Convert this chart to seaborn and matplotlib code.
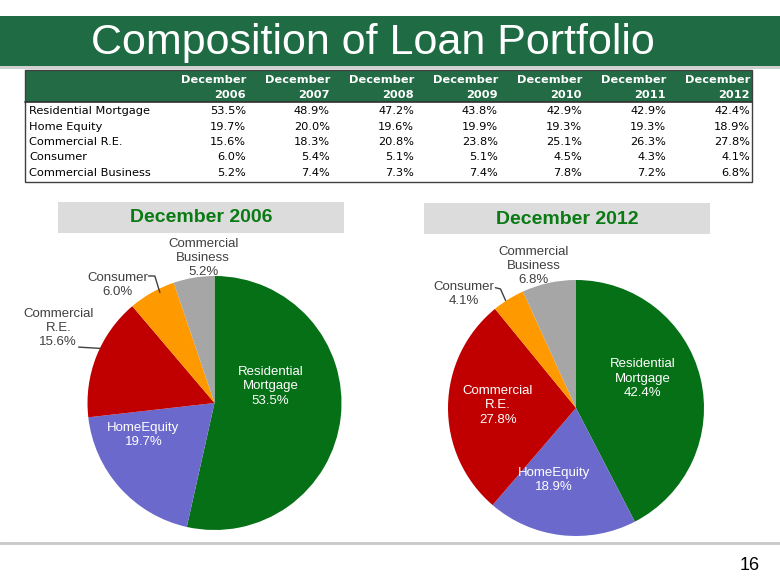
import matplotlib
matplotlib.use("Agg")
import matplotlib.pyplot as plt
from matplotlib.patches import Rectangle
import seaborn as sns
import pandas as pd

# table values (share of loan portfolio, %)
years = ['2006', '2007', '2008', '2009', '2010', '2011', '2012']
categories = ['Residential Mortgage', 'Home Equity', 'Commercial R.E.',
              'Consumer', 'Commercial Business']
residential = [53.5, 48.9, 47.2, 43.8, 42.9, 42.9, 42.4]
home_equity = [19.7, 20.0, 19.6, 19.9, 19.3, 19.3, 18.9]
commercial_re = [15.6, 18.3, 20.8, 23.8, 25.1, 26.3, 27.8]
consumer = [6.0, 5.4, 5.1, 5.1, 4.5, 4.3, 4.1]
commercial_business = [5.2, 7.4, 7.3, 7.4, 7.8, 7.2, 6.8]

pie_names = ['Residential\nMortgage', 'HomeEquity', 'Commercial\nR.E.',
             'Consumer', 'Commercial\nBusiness']
pie_colors = ['#067016', '#6b69cc', '#c00000', '#ff9900', '#a6a6a6']

df = pd.DataFrame([residential, home_equity, commercial_re, consumer,
                   commercial_business], index=categories, columns=years)

sns.set_theme(style='white')
plt.rcParams['font.family'] = ['Liberation Sans', 'DejaVu Sans']

W, H = 780, 585
fig = plt.figure(figsize=(W / 100, H / 100), dpi=100)
bg = fig.add_axes([0, 0, 1, 1])
bg.set_xlim(0, W)
bg.set_ylim(H, 0)
bg.axis('off')

# banner
green = '#1f6c44'
bg.add_patch(Rectangle((0, 66), W, 3, color='#d0d0d0', lw=0))
bg.add_patch(Rectangle((0, 16), W, 50, color=green, lw=0))
bg.text(373, 43, 'Composition of Loan Portfolio', color='white', fontsize=31,
        ha='center', va='center')

# table
tl, tr, tt, hb, tb = 25, 752, 70, 102, 182
bg.add_patch(Rectangle((tl, tt), tr - tl, hb - tt, color='#236b45', lw=0))
bg.add_patch(Rectangle((tl, tt), tr - tl, tb - tt, fill=False,
                       ec='#404040', lw=1))
bg.plot([tl, tr], [hb, hb], color='#303030', lw=1.2)
tfont = dict(family='DejaVu Sans', fontsize=8.2)
col_right = [246 + i * 84 for i in range(len(years))]
for x, yr in zip(col_right, years):
    bg.text(x, 80, 'December', ha='right', va='center', color='white',
            weight='bold', **tfont)
    bg.text(x, 95, yr, ha='right', va='center', color='white',
            weight='bold', **tfont)
for i, cat in enumerate(df.index):
    y = 111 + i * 15.5
    bg.text(29, y, cat, ha='left', va='center', color='black', **tfont)
    for x, yr in zip(col_right, years):
        bg.text(x, y, f'{df.loc[cat, yr]:.1f}%', ha='right', va='center',
                color='black', **tfont)

# pie title boxes
for x0, cx, yy, yr in [(58, 201, 202, 'December 2006'),
                       (424, 567, 203, 'December 2012')]:
    bg.add_patch(Rectangle((x0, yy), 286, 31, color='#dcdcdc', lw=0))
    bg.text(cx, yy + 16, yr, ha='center', va='center', color='#0a7a14',
            fontsize=14, weight='bold')

# footer
bg.plot([0, W], [543, 543], color='#c8c8c8', lw=2)
bg.text(760, 565, '16', ha='right', va='center', fontsize=13, color='black')

# pies
pies = [
    dict(year='2006', cx=214.5, cy=403, r=127,
         pos=[(0.44, 0.13), (-0.56, -0.25), (-1.23, 0.59), (-0.76, 0.93),
              (-0.09, 1.14)],
         inside=[True, True, False, False, False],
         leaders=[[(-1.07, 0.44), (-0.90, 0.43)],
                  [(-0.52, 1.0), (-0.47, 1.0), (-0.43, 0.87)]]),
    dict(year='2012', cx=576, cy=408, r=128,
         pos=[(0.52, 0.23), (-0.17, -0.56), (-0.61, 0.02), (-0.875, 0.89),
              (-0.33, 1.11)],
         inside=[True, True, True, False, False],
         leaders=[[(-0.63, 0.94), (-0.59, 0.93), (-0.55, 0.84)]]),
]
for p in pies:
    ax = fig.add_axes([(p['cx'] - p['r']) / W, 1 - (p['cy'] + p['r']) / H,
                       2 * p['r'] / W, 2 * p['r'] / H])
    vals = df[p['year']]
    ax.pie(vals, colors=pie_colors, startangle=90, counterclock=False,
           wedgeprops=dict(linewidth=0))
    ax.set_xlim(-1, 1)
    ax.set_ylim(-1, 1)
    ax.axis('off')
    for name, v, (x, y), ins in zip(pie_names, vals, p['pos'], p['inside']):
        ax.text(x, y, f'{name}\n{v:.1f}%', ha='center', va='center',
                fontsize=9.5, linespacing=1.25,
                color='white' if ins else '#404040')
    for pts in p['leaders']:
        xs, ys = zip(*pts)
        ax.plot(xs, ys, color='#404040', lw=1, clip_on=False)

fig.savefig('out.png', dpi=100)
